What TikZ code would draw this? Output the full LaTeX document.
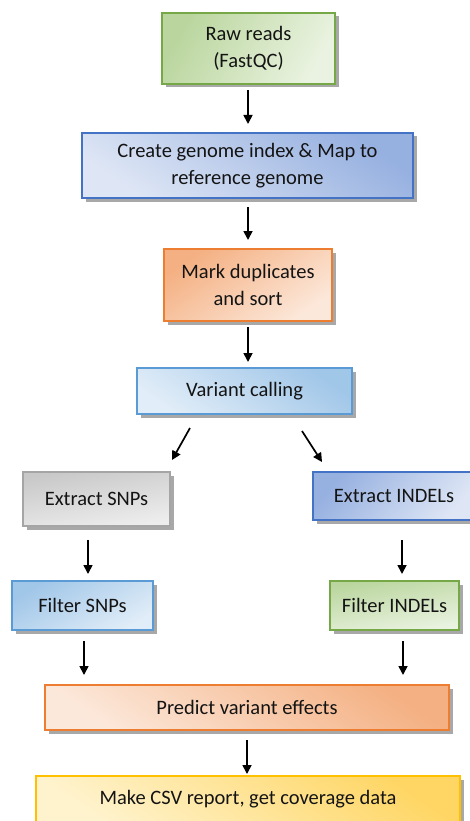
\documentclass[tikz,border=0pt]{standalone}
\usepackage{fontspec}
\setmainfont{Carlito}
\usetikzlibrary{arrows.meta,shadows}
\definecolor{gB}{RGB}{119,168,71}
\definecolor{gD}{RGB}{186,214,158}
\definecolor{gL}{RGB}{234,243,225}
\definecolor{bB}{RGB}{68,114,196}
\definecolor{bD}{RGB}{150,176,224}
\definecolor{bL}{RGB}{222,230,245}
\definecolor{oB}{RGB}{237,125,49}
\definecolor{oD}{RGB}{244,176,130}
\definecolor{oL}{RGB}{252,232,218}
\definecolor{lB}{RGB}{91,155,213}
\definecolor{lD}{RGB}{160,198,232}
\definecolor{lL}{RGB}{225,237,248}
\definecolor{yB}{RGB}{255,192,0}
\definecolor{yD}{RGB}{255,214,100}
\definecolor{yL}{RGB}{255,243,205}
\definecolor{sB}{RGB}{165,165,165}
\definecolor{sD}{RGB}{200,200,200}
\definecolor{sL}{RGB}{238,238,238}
\begin{document}
\begin{tikzpicture}[x=1pt,y=-1pt,
  box/.style={rectangle, line width=1.8pt, inner sep=0pt, align=center,
    font=\fontsize{20.5}{27}\selectfont, text=black!92,
    drop shadow={shadow xshift=3.5pt,shadow yshift=-3.5pt,fill=black!45,opacity=0.75}},
  greenbox/.style={box, draw=gB, top color=gD, bottom color=gL, shading angle=#1},
  greenbox/.default=0,
  bluebox/.style={box, draw=bB, top color=bD, bottom color=bL, shading angle=#1},
  bluebox/.default=0,
  orangebox/.style={box, draw=oB, top color=oD, bottom color=oL, shading angle=#1},
  orangebox/.default=0,
  lightbox/.style={box, draw=lB, top color=lD, bottom color=lL, shading angle=#1},
  lightbox/.default=0,
  yellowbox/.style={box, draw=yB, top color=yD, bottom color=yL, shading angle=#1},
  yellowbox/.default=0,
  graybox/.style={box, draw=sB, top color=sD, bottom color=sL, shading angle=#1},
  graybox/.default=0,
  arr/.style={line width=1.7pt, -{Triangle[width=9pt,length=9pt]}}
]
\clip (0,0) rectangle (470,821);
\fill[white] (0,0) rectangle (470,821);

\node[greenbox=60, minimum width=173pt, minimum height=71pt] (raw) at (248.5,48.5) {Raw reads\\(FastQC)};
\node[bluebox=-35, minimum width=331pt, minimum height=65pt] (create) at (247.5,165.5) {Create genome index \& Map to\\reference genome};
\node[orangebox=35, minimum width=168pt, minimum height=72pt] (mark) at (248,285) {Mark duplicates\\and sort};
\node[lightbox=-35, minimum width=215pt, minimum height=46pt] (variant) at (244.5,391) {Variant calling};
\node[graybox=10, minimum width=147pt, minimum height=54pt] (exsnp) at (96.5,499) {Extract SNPs};
\node[bluebox=50, minimum width=162pt, minimum height=48pt] (exindel) at (394,496) {Extract INDELs};
\node[lightbox=30, minimum width=141pt, minimum height=49pt] (fsnp) at (82.5,605.5) {Filter SNPs};
\node[greenbox=10, minimum width=129pt, minimum height=49pt] (findel) at (394.5,605.5) {Filter INDELs};
\node[orangebox=-35, minimum width=404pt, minimum height=45pt] (predict) at (247,707.5) {Predict variant effects};
\node[yellowbox=-35, minimum width=424pt, minimum height=46pt] (csv) at (248,799) {Make CSV report, get coverage data};

\coordinate (a1s) at (248,90);   \coordinate (a1e) at (248,124);
\coordinate (a2s) at (248,207);  \coordinate (a2e) at (248,240);
\coordinate (a3s) at (248,327);  \coordinate (a3e) at (248,362);
\coordinate (a4s) at (190,428);  \coordinate (a4e) at (172,460);
\coordinate (a5s) at (302,431);  \coordinate (a5e) at (322,462);
\coordinate (a6s) at (88,540);   \coordinate (a6e) at (88,574);
\coordinate (a7s) at (402,540);  \coordinate (a7e) at (402,574);
\coordinate (a8s) at (84,641);   \coordinate (a8e) at (84,675);
\coordinate (a9s) at (403,641);  \coordinate (a9e) at (403,675);
\coordinate (a10s) at (247,740); \coordinate (a10e) at (247,774);

\draw[arr] (a1s) -- (a1e);
\draw[arr] (a2s) -- (a2e);
\draw[arr] (a3s) -- (a3e);
\draw[arr] (a4s) -- (a4e);
\draw[arr] (a5s) -- (a5e);
\draw[arr] (a6s) -- (a6e);
\draw[arr] (a7s) -- (a7e);
\draw[arr] (a8s) -- (a8e);
\draw[arr] (a9s) -- (a9e);
\draw[arr] (a10s) -- (a10e);
\end{tikzpicture}
\end{document}
